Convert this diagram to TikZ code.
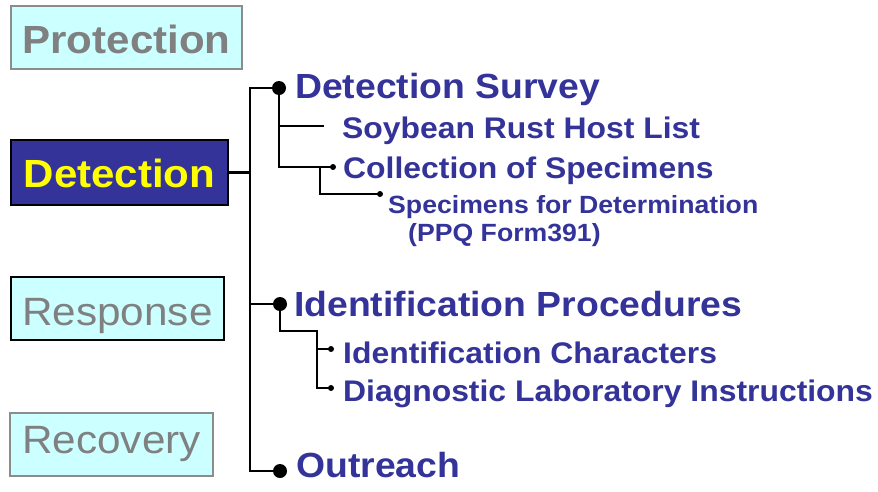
\documentclass[tikz,border=0pt]{standalone}
\usepackage{fontspec}
\setmainfont{Liberation Sans}[FakeStretch=1.07]
\definecolor{navy}{HTML}{333399}
\definecolor{cyanbg}{HTML}{CCFFFF}
\definecolor{boxgray}{HTML}{8C8C8C}
\definecolor{txtgray}{HTML}{808080}
\definecolor{yel}{HTML}{FFFF00}
\begin{document}
\begin{tikzpicture}[x=1pt,y=1pt,
  box/.style={rectangle, inner sep=0pt, anchor=base},
  lbl/.style={anchor=base west, inner sep=0pt, text=navy},
  bigfont/.style={font=\fontsize{34.9}{34.9}\selectfont\bfseries},
  midfont/.style={font=\fontsize{29.8}{29.8}\selectfont\bfseries},
  smallfont/.style={font=\fontsize{24.9}{24.9}\selectfont\bfseries},
  bigdot/.style={circle, fill=black, inner sep=0pt, minimum size=14pt},
  smalldot/.style={circle, fill=black, inner sep=0pt, minimum size=6pt},
  mainline/.style={line width=2.8pt},
  subline/.style={line width=2.4pt}]
\useasboundingbox[fill=white] (0,0) rectangle (878,-491);

% left boxes
\node[box, fill=cyanbg, draw=boxgray, line width=1.5pt, minimum width=231pt,
      text height=47pt, text depth=16pt, text=txtgray,
      font=\fontsize{39.3}{39.3}\selectfont\bfseries] (prot) at (126.5,-53) {Protection};
\node[box, fill=navy, draw=black, line width=2.5pt, minimum width=217pt,
      text height=47pt, text depth=18pt, text=yel,
      font=\fontsize{39.3}{39.3}\selectfont\bfseries] (det) at (119.5,-187) {Detection};
\node[box, fill=cyanbg, draw=black, line width=2pt, minimum width=213pt,
      text height=48pt, text depth=15pt, text=txtgray,
      font=\fontsize{39.5}{39.5}\selectfont] (resp) at (117.5,-325) {Response};
\node[box, fill=cyanbg, draw=boxgray, line width=1.5pt, minimum width=203pt,
      text height=40pt, text depth=23pt, text=txtgray,
      font=\fontsize{39.5}{39.5}\selectfont] (reco) at (111.5,-453) {Recovery};

% labels
\node[lbl, bigfont] (tDS) at (295,-98) {Detection Survey};
\node[lbl, midfont] (tSoy) at (342,-138) {Soybean Rust Host List};
\node[lbl, midfont] (tCol) at (343,-178) {Collection of Specimens};
\node[lbl, smallfont] (tSpec) at (388,-213) {Specimens for Determination};
\node[lbl, smallfont] (tPPQ) at (408,-241) {(PPQ Form391)};
\node[lbl, bigfont] (tIP) at (294,-316) {Identification Procedures};
\node[lbl, midfont] (tIC) at (343,-363) {Identification Characters};
\node[lbl, midfont] (tDL) at (343,-401) {Diagnostic Laboratory Instructions};
\node[lbl, bigfont] (tOut) at (296,-477) {Outreach};

% junctions and dots
\coordinate (sTop) at (250,-88);
\coordinate (sBot) at (250,-471);
\node[bigdot] (dDS) at (279,-88) {};
\node[bigdot] (dIP) at (280,-304) {};
\node[bigdot] (dO) at (280,-471) {};
\node[smalldot] (dCol) at (333,-167) {};
\node[smalldot] (dSpec) at (380,-194) {};
\coordinate (jCol) at (320,-167);
\coordinate (soyA) at (280,-126);
\coordinate (soyB) at (324,-126);
\coordinate (jIP) at (317,-331);
\node[smalldot] (dIC) at (331,-349) {};
\node[smalldot] (dDL) at (331,-388) {};

% main spine
\draw[mainline] (det.east) -- (sTop |- det.east);
\draw[mainline] (dDS.center) -- (sTop) -- (sBot) -- (dO.center);
\draw[mainline] (sTop |- dIP) -- (dIP.center);

% detection survey subtree
\draw[subline] (dDS.center) |- (dCol.center);
\draw[subline] (soyA) -- (soyB);
\draw[subline] (jCol) |- (dSpec.center);

% identification subtree
\draw[subline] (dIP.center) |- (jIP) |- (dDL.center);
\draw[subline] (jIP |- dIC) -- (dIC.center);
\end{tikzpicture}
\end{document}
